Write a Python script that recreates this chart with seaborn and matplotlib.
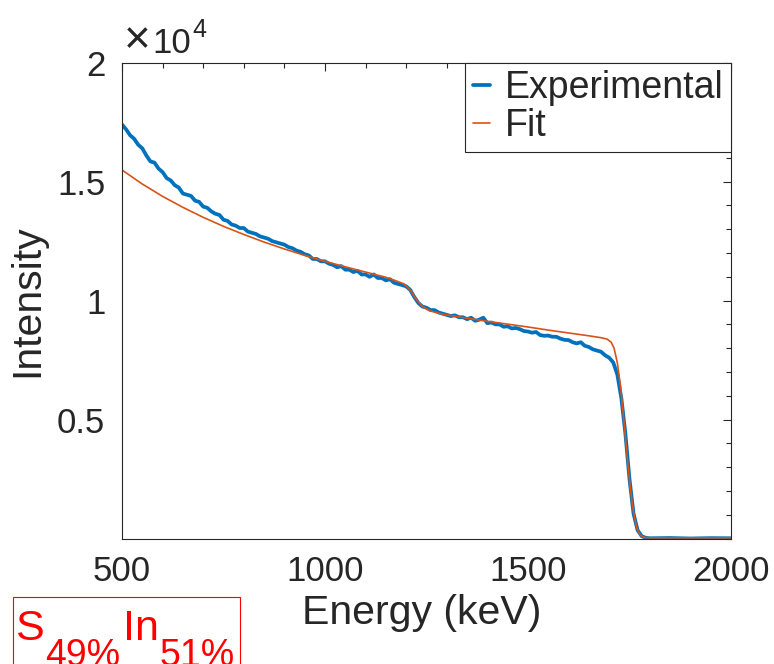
import numpy as np
import pandas as pd
import matplotlib
matplotlib.use("Agg")
import matplotlib.pyplot as plt
import seaborn as sns
from matplotlib.ticker import MultipleLocator, FixedLocator
from matplotlib.patches import Rectangle

# ---------------- data ----------------
exp_energy = [500, 510, 520, 530, 540, 550, 560, 570, 580, 590,
              600, 610, 620, 630, 640, 650, 660, 670, 680, 690,
              700, 710, 720, 730, 740, 750, 760, 770, 780, 790,
              800, 810, 820, 830, 840, 850, 860, 870, 880, 890,
              900, 910, 920, 930, 940, 950, 960, 970, 980, 990,
              1000, 1010, 1020, 1030, 1040, 1050, 1060, 1070, 1080, 1090,
              1100, 1110, 1120, 1130, 1140, 1150, 1160, 1170, 1180, 1190,
              1200, 1210, 1220, 1230, 1240, 1250, 1260, 1270, 1280, 1290,
              1300, 1310, 1320, 1330, 1340, 1350, 1360, 1370, 1380, 1390,
              1400, 1410, 1420, 1430, 1440, 1450, 1460, 1470, 1480, 1490,
              1500, 1510, 1520, 1530, 1540, 1550, 1560, 1570, 1580, 1590,
              1600, 1610, 1620, 1630, 1640, 1650, 1660, 1670, 1680, 1690,
              1700, 1710, 1720, 1730, 1740, 1750, 1760, 1770, 1780, 1790,
              1800, 1850, 1900, 1950, 2000]
exp_intensity = [17400, 17200, 16950, 16800, 16550, 16400, 16100, 15850, 15800, 15550,
                 15400, 15150, 15050, 14850, 14750, 14500, 14450, 14400, 14200, 14150,
                 13950, 13900, 13750, 13650, 13600, 13400, 13350, 13200, 13150, 13050,
                 13050, 12900, 12850, 12800, 12700, 12650, 12600, 12500, 12450, 12400,
                 12350, 12250, 12200, 12100, 12050, 11950, 11900, 11750, 11750, 11650,
                 11650, 11550, 11500, 11400, 11450, 11300, 11300, 11200, 11250, 11100,
                 11100, 11000, 11100, 10950, 10950, 10850, 10900, 10750, 10700, 10650,
                 10600, 10450, 10150, 9900, 9750, 9700, 9600, 9600, 9500, 9450,
                 9400, 9350, 9380, 9300, 9300, 9220, 9280, 9150, 9200, 9280,
                 9050, 9080, 9000, 9000, 8900, 8920, 8830, 8850, 8800, 8720,
                 8700, 8650, 8680, 8550, 8520, 8530, 8480, 8480, 8400, 8350,
                 8340, 8250, 8200, 8250, 8100, 8050, 7950, 7900, 7850, 7700,
                 7600, 7400, 6900, 5900, 4400, 2500, 1050, 350, 100, 30,
                 10, 20, 0, 15, 10]

fit_energy = [500, 550, 600, 650, 700, 750, 800, 850, 900, 950, 1000, 1050, 1100, 1150,
              1180, 1195, 1210, 1225, 1240, 1260, 1280, 1300, 1350, 1400, 1450, 1500,
              1550, 1600, 1650, 1680, 1695, 1705, 1712, 1720, 1728, 1736, 1744, 1752,
              1760, 1768, 1776, 1785, 1800, 2000]
fit_intensity = [15490, 14900, 14380, 13920, 13500, 13120, 12780, 12460, 12170, 11900,
                 11650, 11420, 11200, 10980, 10800, 10700, 10450, 10050, 9750, 9560, 9470,
                 9400, 9260, 9130, 9010, 8890, 8760, 8640, 8520, 8440, 8380, 8250, 8000,
                 7400, 6400, 5000, 3500, 2100, 1100, 450, 150, 50, 30, 30]

x_ticks = [500, 1000, 1500, 2000]
y_ticks = [5000, 10000, 15000, 20000]
y_tick_labels = ["0.5", "1", "1.5", "2"]
series_names = ["Experimental", "Fit"]
composition_parts = ["S", "49%", "In", "51%"]
exponent_parts = ["\u00d7", "10", "4"]

# ---------------- style ----------------
sns.set_style("white")
plt.rcParams["font.family"] = ["Liberation Sans", "DejaVu Sans"]

AX_COL = "#262626"
BLUE = "#0072BD"
ORANGE = "#D95319"
W, H = 774, 664

fig = plt.figure(figsize=(7.74, 6.64), dpi=100)
ax = fig.add_axes([0.1576, 0.189, 0.7868, 0.7166])

df_exp = pd.DataFrame({"Energy": exp_energy, "Intensity": exp_intensity})
df_fit = pd.DataFrame({"Energy": fit_energy, "Intensity": fit_intensity})

sns.lineplot(data=df_exp, x="Energy", y="Intensity", ax=ax, color=BLUE, lw=2.7,
             label=series_names[0], estimator=None)
sns.lineplot(data=df_fit, x="Energy", y="Intensity", ax=ax, color=ORANGE, lw=1.2,
             label=series_names[1], estimator=None)

ax.set_xlim(500, 2000)
ax.set_ylim(0, 20000)
ax.xaxis.set_major_locator(FixedLocator(x_ticks))
ax.xaxis.set_minor_locator(MultipleLocator(100))
ax.yaxis.set_major_locator(FixedLocator(y_ticks))
ax.set_yticklabels(y_tick_labels)
ax.yaxis.set_minor_locator(MultipleLocator(1000))

ax.tick_params(which="both", direction="in", top=True, right=True, colors=AX_COL,
               width=0.8, labelsize=25, labelcolor=AX_COL)
ax.tick_params(which="major", length=6, pad=12)
ax.tick_params(which="minor", length=3.5)
for s in ax.spines.values():
    s.set_color(AX_COL)
    s.set_linewidth(0.8)

ax.set_xlabel("Energy (keV)", fontsize=29.5, color=AX_COL, labelpad=4)
ax.xaxis.label.set_x(0.492)
ax.set_ylabel("Intensity", fontsize=29.5, color=AX_COL, labelpad=8)

leg = ax.legend(loc="upper right", bbox_to_anchor=(1.0, 1.0), borderaxespad=0,
                fontsize=27, frameon=True, fancybox=False, handlelength=0.45,
                handletextpad=0.4, borderpad=0.2, labelspacing=0.05)
leg.get_frame().set_edgecolor(AX_COL)
leg.get_frame().set_linewidth(0.8)
leg.get_frame().set_alpha(1)

renderer = fig.canvas.get_renderer()


def text_run(parts, sizes, shifts, gaps, x_px, base_px, color):
    """Place consecutive text pieces (raised / lowered parts) along a baseline in pixels."""
    x = x_px
    for txt, size, shift, gap in zip(parts, sizes, shifts, gaps):
        t = fig.text(x / W, 1 - (base_px + shift) / H, txt, fontsize=size,
                     color=color, ha="left", va="baseline")
        bb = t.get_window_extent(renderer=renderer)
        x = x + bb.width + gap


# x10^4 exponent label above the y axis
text_run(exponent_parts, [33, 25, 18], [0, 0, -16], [2, 1, 0], 124, 53, AX_COL)

# composition label with red frame (subscripts run off the bottom edge as in the original)
text_run(composition_parts, [31, 27, 31, 27], [0, 26, 0, 26], [1, 3, 1, 0], 15, 640, "red")
fig.patches.append(Rectangle((13.3 / W, -0.05), (240 - 13.3) / W, (H - 596.7) / H + 0.05,
                             transform=fig.transFigure, fill=False, ec="red", lw=0.8))

fig.savefig("out.png", dpi=100)
